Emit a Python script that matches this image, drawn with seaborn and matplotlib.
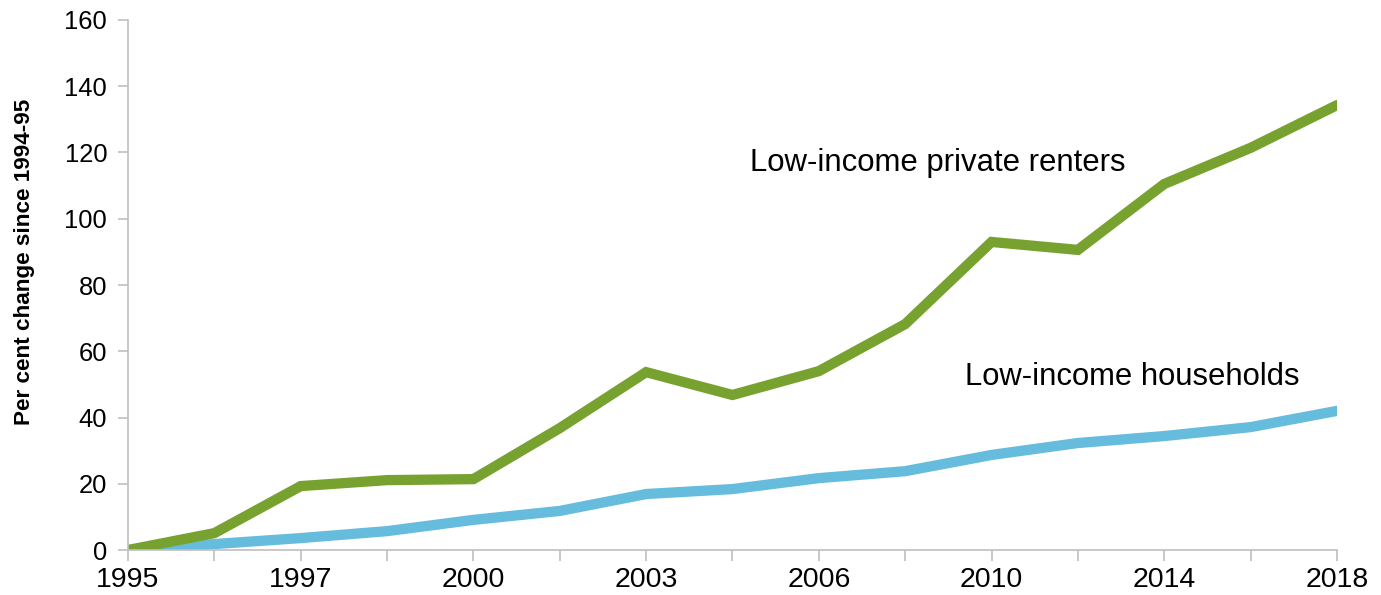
import matplotlib
matplotlib.use("Agg")
import matplotlib.pyplot as plt
import seaborn as sns
import pandas as pd

# Survey periods (evenly spaced on the x axis); every other one is labelled
periods = ["1995", "1996", "1997", "1999", "2000", "2002", "2003", "2005",
           "2006", "2008", "2010", "2012", "2014", "2016", "2018"]
tick_labels = ["1995", "", "1997", "", "2000", "", "2003", "", "2006", "",
               "2010", "", "2014", "", "2018"]

# Per cent change since 1994-95
private_renters = [0, 5.1, 19.3, 21.1, 21.4, 36.8, 53.7, 46.8, 54.0, 68.2,
                   93.0, 90.6, 110.5, 121.4, 134.3]
households = [0, 1.8, 3.6, 5.7, 9.1, 11.8, 16.9, 18.4, 21.7, 23.8,
              28.7, 32.3, 34.4, 37.1, 42.0]

series_names = ["Low-income households", "Low-income private renters"]
colors = {"Low-income households": "#66BCDC",
          "Low-income private renters": "#78A22F"}

df = pd.DataFrame({
    "pos": list(range(len(periods))) * 2,
    "value": households + private_renters,
    "series": [series_names[0]] * len(periods) + [series_names[1]] * len(periods),
})

sns.set_theme(style="white")
plt.rcParams["font.family"] = ["Liberation Sans", "DejaVu Sans"]

fig = plt.figure(figsize=(13.81, 5.95), dpi=100)
ax = fig.add_axes([0.0927, 0.0756, 0.8754, 0.8908])

sns.lineplot(data=df, x="pos", y="value", hue="series", hue_order=series_names,
             palette=colors, linewidth=7.4, legend=False, ax=ax,
             solid_joinstyle="miter")

ax.set_xlim(0, len(periods) - 1)
ax.set_ylim(0, 160)
ax.set_yticks(range(0, 161, 20))
ax.set_xticks(range(len(periods)))
ax.set_xticklabels(tick_labels)

for s in ["top", "right"]:
    ax.spines[s].set_visible(False)
for s in ["left", "bottom"]:
    ax.spines[s].set_color("#BFBFBF")
    ax.spines[s].set_linewidth(1.2)

ax.tick_params(axis="both", which="major", direction="out", width=1.2,
               color="#BFBFBF", labelcolor="black", bottom=True, left=True)
ax.tick_params(axis="x", length=8, labelsize=20.5, pad=4)
ax.tick_params(axis="y", length=7, labelsize=18.4, pad=8)

ax.set_xlabel("")
ax.set_ylabel("Per cent change since 1994-95", fontsize=16.2,
              fontweight="bold", color="black")
ax.yaxis.set_label_coords(-0.077, 0.543)

ax.text(7.20, 114.4, "Low-income private renters", fontsize=22.4,
        va="baseline", ha="left", color="black")
ax.text(9.69, 49.8, "Low-income households", fontsize=22.3,
        va="baseline", ha="left", color="black")

fig.savefig("out.png", dpi=100)
